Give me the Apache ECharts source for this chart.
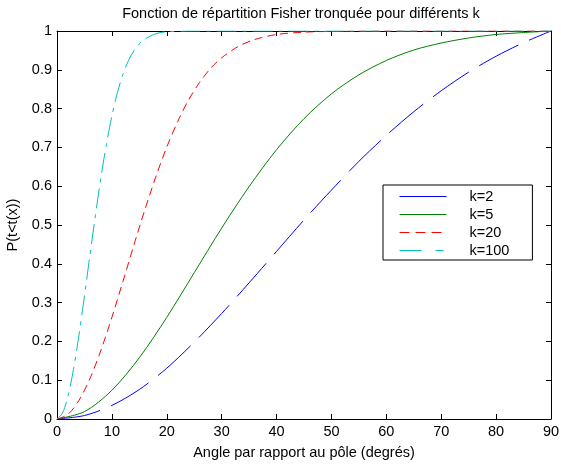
<!DOCTYPE html>
<html>
<head>
<meta charset="utf-8">
<script src="https://cdn.jsdelivr.net/npm/echarts@6/dist/echarts.min.js"></script>
<style>html,body{margin:0;padding:0;background:#fff}#c{width:561px;height:464px}</style>
</head>
<body>
<div id="c"></div>
<script>
const titleText = 'Fonction de répartition Fisher tronquée pour différents k';
const xName = 'Angle par rapport au pôle (degrés)';
const yName = 'P(t<t(x))';
const seriesNames = ['k=2', 'k=5', 'k=20', 'k=100'];

const angles5 = [0,5,10,15,20,25,30,35,40,45,50,55,60,65,70,75,80,85,90];
const k2 = [0,0.009,0.035,0.076,0.131,0.198,0.272,0.351,0.432,0.513,0.590,0.664,0.731,0.792,0.846,0.894,0.935,0.970,1.0];
const k5 = [0,0.019,0.074,0.158,0.262,0.377,0.492,0.599,0.694,0.774,0.838,0.887,0.924,0.951,0.969,0.982,0.991,0.996,1.0];
const angles20 = [0,2,4,6,8,10,12,14,16,18,20,22,24,26,28,30,33,36,40,45,50,60,70,80,90];
const k20 = [0,0.012,0.048,0.104,0.177,0.262,0.354,0.448,0.539,0.624,0.701,0.767,0.823,0.868,0.904,0.931,0.960,0.978,0.991,0.997,0.999,1,1,1,1];
const angles100 = [0,1,2,3,4,5,6,7,8,9,10,11,12,13,14,15,16,18,20,25,30,40,50,60,70,80,90];
const k100 = [0,0.015,0.059,0.128,0.216,0.317,0.422,0.525,0.622,0.708,0.781,0.841,0.888,0.923,0.949,0.967,0.979,0.993,0.998,1,1,1,1,1,1,1,1];

const colors = ['#0000ff', '#008000', '#ff0000', '#00bfbf'];
const dashes = [[44, 12], 'solid', [8, 5], [20, 6, 4, 6]];
const legendDashes = ['solid', 'solid', [10, 6], [22, 14, 8, 14]];
const xs = [angles5, angles5, angles20, angles100];
const ys = [k2, k5, k20, k100];

const FONT = 'Liberation Sans, Arial, Helvetica, sans-serif';
const FS = 14.5;
const chart = echarts.init(document.getElementById('c'), null, {renderer: 'canvas'});

const axisCommon = {
  axisLine: {show: true, onZero: false, lineStyle: {color: '#000', width: 1}},
  axisTick: {show: true, inside: true, length: 5, lineStyle: {color: '#000', width: 1}},
  splitLine: {show: false}
};

const option = {
  backgroundColor: '#fff',
  animation: false,
  textStyle: {fontFamily: FONT},
  graphic: [{
    type: 'text', x: 301, y: 6,
    style: {text: titleText, font: FS + 'px ' + FONT, fill: '#000', textAlign: 'center', textVerticalAlign: 'top'}
  }],
  grid: {left: 57, right: 10, top: 31, bottom: 45, containLabel: false, outerBoundsMode: 'none'},
  legend: {
    show: true,
    orient: 'vertical', left: 383, top: 185,
    padding: [4, 23, 2, 16],
    itemWidth: 47, itemHeight: 14, itemGap: 3,
    borderColor: '#000', borderWidth: 1, backgroundColor: '#fff',
    textStyle: {fontSize: FS, color: '#000', fontFamily: FONT, padding: [0, 0, 0, 18]},
    data: seriesNames.map((n, i) => ({
      name: n,
      itemStyle: {opacity: 0},
      lineStyle: {color: colors[i], width: 1, type: legendDashes[i]}
    }))
  },
  xAxis: [
    Object.assign({
      type: 'value', min: 0, max: 90, interval: 10, position: 'bottom',
      name: xName, nameLocation: 'middle', nameGap: 26,
      nameTextStyle: {fontSize: FS, color: '#000', fontFamily: FONT},
      axisLabel: {fontSize: FS, color: '#000', margin: 5, fontFamily: FONT}
    }, axisCommon),
    Object.assign({
      type: 'value', min: 0, max: 90, interval: 10, position: 'top',
      axisLabel: {show: false}
    }, axisCommon)
  ],
  yAxis: [
    Object.assign({
      type: 'value', min: 0, max: 1, interval: 0.1, position: 'left',
      name: yName, nameLocation: 'middle', nameGap: 27,
      nameTextStyle: {fontSize: FS, color: '#000', fontFamily: FONT},
      axisLabel: {fontSize: FS, color: '#000', margin: 5, fontFamily: FONT,
        formatter: v => (v === 0 ? '0' : (Math.abs(v - 1) < 1e-9 ? '1' : v.toFixed(1)))}
    }, axisCommon),
    Object.assign({
      type: 'value', min: 0, max: 1, interval: 0.1, position: 'right',
      axisLabel: {show: false}
    }, axisCommon)
  ],
  series: seriesNames.map((n, i) => ({
    name: n, type: 'line', xAxisIndex: 0, yAxisIndex: 0,
    data: xs[i].map((x, j) => [x, ys[i][j]]),
    showSymbol: false, symbol: 'none', smooth: 0.3,
    lineStyle: {color: colors[i], width: 1, type: dashes[i]},
    itemStyle: {color: colors[i]}
  }))
};
chart.setOption(option);
</script>
</body>
</html>
